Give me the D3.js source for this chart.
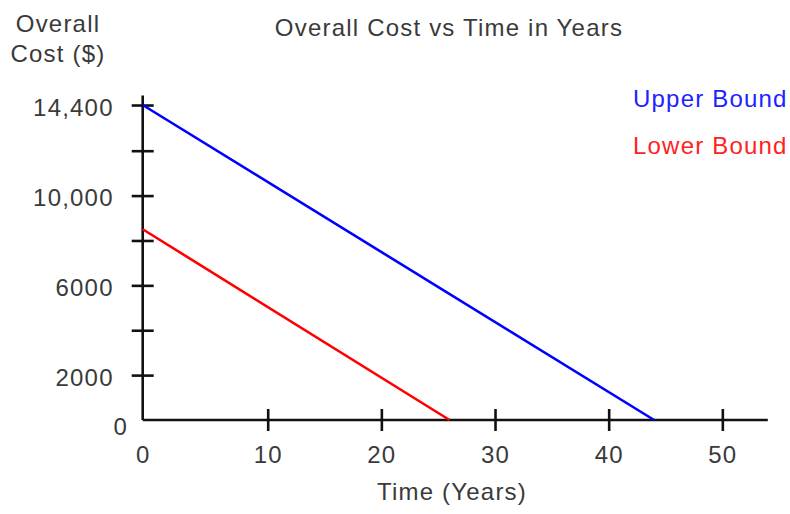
<!DOCTYPE html>
<html>
<head>
<meta charset="utf-8">
<script src="https://cdn.jsdelivr.net/npm/d3@7"></script>
<style>
  html, body { margin: 0; padding: 0; background: #fff; }
  svg text { font-family: Arial, "Liberation Sans", sans-serif; font-size: 24px; fill: #3a3a3a; letter-spacing: 1.2px; }
  .axis path, .axis line { stroke: #111; stroke-width: 2.6; }
</style>
</head>
<body>
<div id="chart"></div>
<script>
/* Overall Cost vs Time in Years — two bounds, straight-line decline */

const upperYears = [0, 44];
const upperCost = [14400, 0];
const lowerYears = [0, 26];
const lowerCost = [8500, 0];

const xTicks = [0, 10, 20, 30, 40, 50];
const yTicks = [2000, 4000, 6000, 8000, 10000, 12000, 14400];
const yLabelled = [2000, 6000, 10000, 14400];

const W = 790, H = 514;
const svg = d3.select("#chart").append("svg").attr("width", W).attr("height", H);

/* the hand-drawn axes are not evenly spaced, so piecewise scales */
const x = d3.scaleLinear().domain([0, 10, 54]).range([142.7, 267.7, 767.8]);
const y = d3.scaleLinear().domain([0, 12000, 14900]).range([420, 150.7, 95.5]);

/* axes */
const gx = svg.append("g").attr("class", "axis").attr("transform", `translate(0,${y(0)})`)
  .call(d3.axisBottom(x).tickValues(xTicks).tickSizeInner(11).tickSizeOuter(0).tickPadding(0));
gx.selectAll(".tick line").attr("y1", -11).attr("y2", 11)
  .attr("display", d => d === 0 ? "none" : null);
gx.selectAll(".tick text").attr("y", 43).attr("dy", null).attr("font-size", null).attr("font-family", null);

const gy = svg.append("g").attr("class", "axis").attr("transform", `translate(${x(0)},0)`)
  .call(d3.axisLeft(y).tickValues(yTicks).tickSizeInner(11).tickSizeOuter(0).tickPadding(18)
    .tickFormat(d => yLabelled.includes(d) ? (d >= 10000 ? d3.format(",")(d) : d) : ""));
gy.selectAll(".tick line").attr("x1", -11).attr("x2", 11);
gy.selectAll(".tick text").attr("dy", "0.42em").attr("font-size", null).attr("font-family", null);
gy.select(".domain").attr("d", `M0,${y(0)}V${y(14900)}`);
gx.select(".domain").attr("d", `M${x(0)},0H${x(54)}`);

svg.append("text").attr("x", x(0) - 22).attr("y", y(0) + 15)
  .attr("text-anchor", "middle").text("0");

/* lines */
const line = d3.line().x(d => x(d[0])).y(d => y(d[1]));
svg.append("path").attr("d", line(d3.zip(upperYears, upperCost)))
  .attr("fill", "none").attr("stroke", "#0000ff").attr("stroke-width", 2.6);
svg.append("path").attr("d", line(d3.zip(lowerYears, lowerCost)))
  .attr("fill", "none").attr("stroke", "#ff0000").attr("stroke-width", 2.6);

/* titles */
svg.append("text").attr("x", 449).attr("y", 35.5).attr("text-anchor", "middle")
  .text("Overall Cost vs Time in Years");
svg.append("text").attr("x", 58).attr("y", 31.5).attr("text-anchor", "middle").text("Overall");
svg.append("text").attr("x", 58).attr("y", 61.5).attr("text-anchor", "middle").text("Cost ($)");
svg.append("text").attr("x", 452).attr("y", 500).attr("text-anchor", "middle").text("Time (Years)");

/* legend */
svg.append("text").attr("x", 633).attr("y", 106.5).style("fill", "#2222ff").text("Upper Bound");
svg.append("text").attr("x", 633).attr("y", 154).style("fill", "#ff2222").text("Lower Bound");
</script>
</body>
</html>
